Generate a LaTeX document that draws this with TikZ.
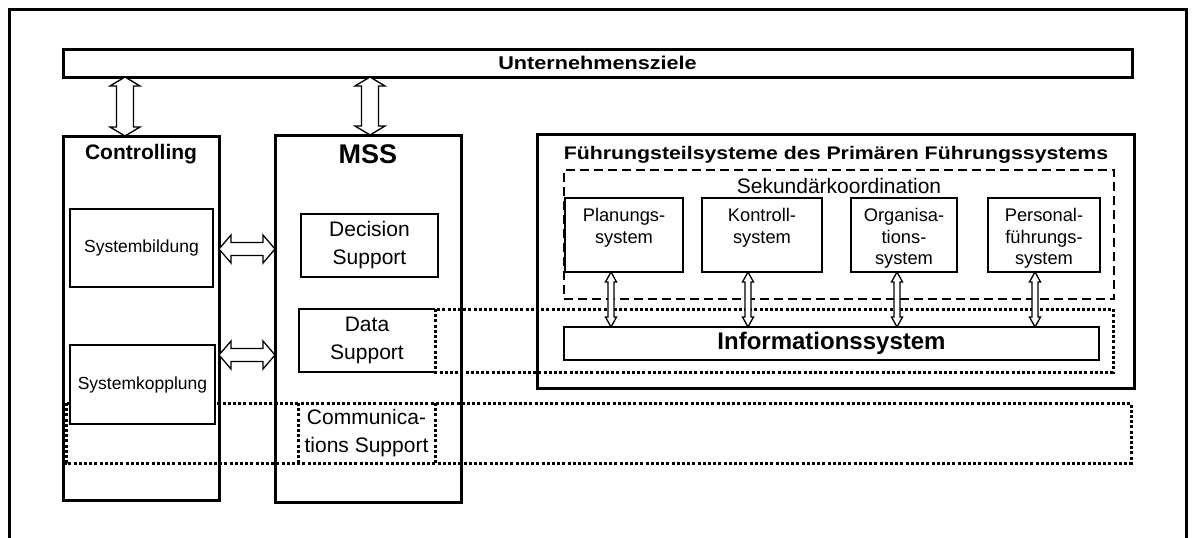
\documentclass[tikz,border=0pt]{standalone}
\usepackage{fontspec}
\setmainfont{Liberation Sans}
\newfontfamily\widesans[FakeStretch=1.17]{Liberation Sans}
\usetikzlibrary{calc}

\tikzset{
  heavy/.style={draw, line width=3pt, inner sep=0pt, outer sep=0pt},
  box/.style={draw, line width=1.5pt, fill=white, inner sep=0pt, outer sep=0pt, align=center},
  plain/.style={inner sep=0pt, outer sep=0pt, align=center},
  dotline/.style={line width=3pt, dash pattern=on 3pt off 2.2pt},
  dashline/.style={draw, line width=1.2pt, dash pattern=on 9pt off 5pt, inner sep=0pt, outer sep=0pt},
  arrowshape/.style={draw, fill=white, line width=1.3pt, line join=miter},
}

% hollow double arrow, vertical: #1 top point, #2 bottom point (x taken from #1),
% #3 shaft half width, #4 head half width, #5 head length
\newcommand\vdarr[5]{%
  \path[arrowshape] let \p1=#1, \p2=#2 in
    (\x1,\y1) -- (\x1+#4,\y1-#5) -- (\x1+#3,\y1-#5) -- (\x1+#3,\y2+#5)
    -- (\x1+#4,\y2+#5) -- (\x1,\y2) -- (\x1-#4,\y2+#5) -- (\x1-#3,\y2+#5)
    -- (\x1-#3,\y1-#5) -- (\x1-#4,\y1-#5) -- cycle;}
% hollow double arrow, horizontal: #1 left point, #2 right point (y taken from #1)
\newcommand\hdarr[5]{%
  \path[arrowshape] let \p1=#1, \p2=#2 in
    (\x1,\y1) -- (\x1+#5,\y1+#4) -- (\x1+#5,\y1+#3) -- (\x2-#5,\y1+#3)
    -- (\x2-#5,\y1+#4) -- (\x2,\y1) -- (\x2-#5,\y1-#4) -- (\x2-#5,\y1-#3)
    -- (\x1+#5,\y1-#3) -- (\x1+#5,\y1-#4) -- cycle;}

\begin{document}
\begin{tikzpicture}[x=1pt,y=-1pt]
\useasboundingbox (0,0) rectangle (1192,538);

% outer frame, open at the bottom
\draw[line width=3pt] (9,545) -- (9,9) -- (1186,9) -- (1186,545);

% goals bar
\node[heavy, minimum width=1069pt, minimum height=28pt] (bar) at (597.5,63)
  {\widesans\bfseries\fontsize{18.5}{22}\selectfont Unternehmensziele};

% main columns
\node[heavy, minimum width=156pt, minimum height=364pt] (ctrl) at (141,318) {};
\node[heavy, minimum width=186pt, minimum height=367pt] (mss) at (368,318.5) {};
\node[plain, anchor=base] (ctrltitle) at (141,159) {\bfseries\fontsize{21}{25}\selectfont Controlling};
\node[plain, anchor=base] (msstitle) at (368,163) {\bfseries\fontsize{27}{32}\selectfont MSS};

% leadership subsystems
\node[heavy, minimum width=597pt, minimum height=254pt] (fuehr) at (835.5,261) {};
\node[plain, anchor=base] (fuehrtitle) at (836,159)
  {\widesans\bfseries\fontsize{18.2}{22}\selectfont Führungsteilsysteme des Primären Führungssystems};
\node[dashline, minimum width=550pt, minimum height=129pt] (sek) at (839,234.5) {};
\node[plain, anchor=base] (sektitle) at (839,193) {\fontsize{21}{25}\selectfont Sekundärkoordination};

% dotted groupings
\draw[dotline] (66,403) rectangle (1131,463);

% boxes in the controlling column
\node[box, minimum width=143pt, minimum height=78pt, font=\fontsize{17.5}{21}\selectfont] (sysbild) at (141.5,248) {Systembildung};
\node[box, minimum width=145pt, minimum height=79pt, font=\fontsize{17.5}{21}\selectfont] (syskop) at (142.5,384.5) {Systemkopplung};

% boxes in the MSS column
\node[box, minimum width=137pt, minimum height=63pt, font=\fontsize{21}{28}\selectfont] (decision) at (369.5,245.5) {Decision\\Support};
\node[plain, minimum width=136pt, minimum height=63pt, font=\fontsize{21}{28}\selectfont] (data) at (367,340.5) {Data\\Support};
\draw[line width=1.5pt] (data.north east) -- (data.north west) -- (data.south west) -- (data.south east);
\draw[dotline] (data.north east) rectangle (1113,372);
\node[plain, minimum width=137pt, minimum height=60pt, font=\fontsize{21}{28}\selectfont] (comm) at (366.5,433) {Communica-\\tions Support};
\draw[dotline] (comm.north west) -- (comm.south west);
\draw[dotline] (comm.north east) -- (comm.south east);

% subsystem boxes
\node[box, minimum width=118pt, minimum height=74pt] (plan) at (624,235) {};
\node[box, minimum width=120pt, minimum height=74pt] (kontr) at (762,235) {};
\node[box, minimum width=106pt, minimum height=74pt] (orga) at (904,235) {};
\node[box, minimum width=112pt, minimum height=74pt] (pers) at (1044,235) {};
% labels are placed by the baseline of their last line
\begin{scope}[every node/.style={plain, anchor=base, font=\fontsize{18.3}{21.5}\selectfont}]
\node (plantext) at (624,243) {Planungs-\\system};
\node (kontrtext) at (762,243) {Kontroll-\\system};
\node (orgatext) at (904,264.5) {Organisa-\\tions-\\system};
\node (perstext) at (1044,264.5) {Personal-\\führungs-\\system};
\end{scope}

\node[box, minimum width=535pt, minimum height=33pt] (info) at (831.5,343.5)
  {\bfseries\fontsize{24}{28}\selectfont Informationssystem};

% connectors
\vdarr{(bar.south -| 125,0)}{(ctrl.north -| 125,0)}{8.5pt}{15pt}{9pt}
\vdarr{(bar.south -| 370,0)}{(mss.north -| 370,0)}{8.5pt}{15pt}{9pt}
\hdarr{(ctrl.east |- 0,249)}{(mss.west |- 0,249)}{6.5pt}{14pt}{12pt}
\hdarr{(ctrl.east |- 0,355)}{(mss.west |- 0,355)}{6.5pt}{14pt}{12pt}
\vdarr{(plan.south -| 611,0)}{(info.north -| 611,0)}{3pt}{5.5pt}{10pt}
\vdarr{(kontr.south -| 748,0)}{(info.north -| 748,0)}{3pt}{5.5pt}{10pt}
\vdarr{(orga.south -| 897,0)}{(info.north -| 897,0)}{3pt}{5.5pt}{10pt}
\vdarr{(pers.south -| 1035,0)}{(info.north -| 1035,0)}{3pt}{5.5pt}{10pt}
\end{tikzpicture}
\end{document}
